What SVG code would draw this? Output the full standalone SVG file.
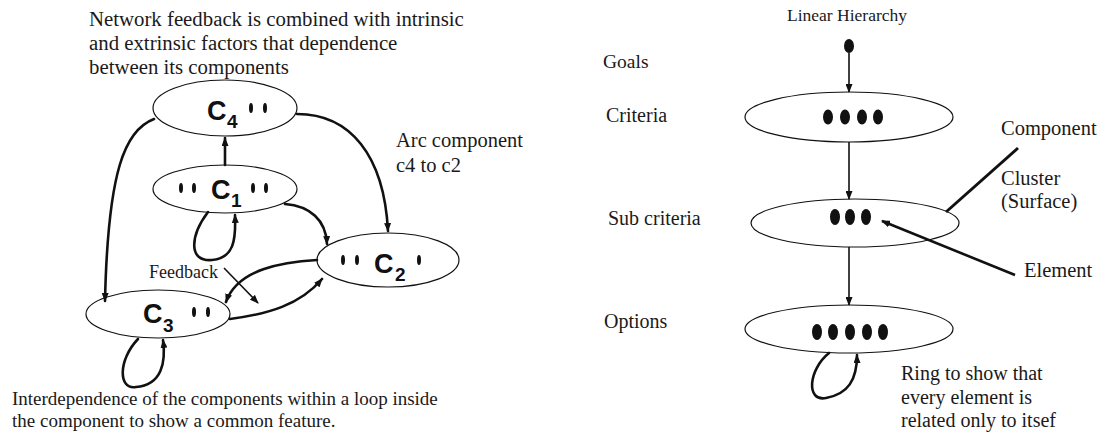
<svg xmlns="http://www.w3.org/2000/svg" width="1102" height="433" viewBox="0 0 1102 433">
<style>
.t{font-family:"Liberation Serif","Times New Roman",serif;fill:#1a1a1a}
.c{font-family:"Liberation Sans",Arial,sans-serif;font-weight:bold;fill:#111}
.ell{fill:none;stroke:#111;stroke-width:1.2}
.thick{fill:none;stroke:#111;stroke-width:2.6;stroke-linecap:round}
.thin{fill:none;stroke:#111;stroke-width:1.6}
.dot{fill:#111}
</style>
<defs>
<marker id="ah" markerUnits="userSpaceOnUse" markerWidth="9" markerHeight="7" refX="8" refY="3.5" orient="auto">
<path d="M0,0 L9,3.5 L0,7 z" fill="#111"/>
</marker>
</defs>
<rect width="1102" height="433" fill="#fff"/>

<!-- left texts -->
<g id="title-left">
<text class="t" x="89" y="26" font-size="20.8">Network feedback is combined with intrinsic</text>
<text class="t" x="89" y="50" font-size="20.8">and extrinsic factors that dependence</text>
<text class="t" x="89" y="74" font-size="20.8">between its components</text>
</g>
<g id="arc-label">
<text class="t" x="396" y="147" font-size="20.5">Arc component</text>
<text class="t" x="396" y="172" font-size="20.5">c4 to c2</text>
</g>
<g id="feedback-label"><text class="t" x="149" y="278" font-size="18">Feedback</text></g>
<g id="bottom-left-text">
<text class="t" x="12" y="405" font-size="19">Interdependence of the components within a loop inside</text>
<text class="t" x="12" y="427" font-size="19">the component to show a common feature.</text>
</g>

<!-- left nodes -->
<g id="C4">
<ellipse class="ell" cx="225" cy="108" rx="72" ry="28"/>
<text class="c" x="207" y="120" font-size="27">C</text>
<text class="c" x="227" y="128" font-size="19">4</text>
<ellipse class="dot" cx="251" cy="108" rx="2" ry="5"/>
<ellipse class="dot" cx="265" cy="108" rx="2" ry="5"/>
</g>
<g id="C1">
<ellipse class="ell" cx="225" cy="189" rx="72" ry="24"/>
<ellipse class="dot" cx="181" cy="188" rx="2" ry="5"/>
<ellipse class="dot" cx="194" cy="188" rx="2" ry="5"/>
<text class="c" x="211" y="199" font-size="27">C</text>
<text class="c" x="231" y="207" font-size="19">1</text>
<ellipse class="dot" cx="253" cy="188" rx="2" ry="5"/>
<ellipse class="dot" cx="266" cy="188" rx="2" ry="5"/>
</g>
<g id="C2">
<ellipse class="ell" cx="388" cy="260" rx="71" ry="27"/>
<ellipse class="dot" cx="343" cy="260" rx="2" ry="5"/>
<ellipse class="dot" cx="357" cy="260" rx="2" ry="5"/>
<text class="c" x="374" y="273" font-size="27">C</text>
<text class="c" x="395" y="281" font-size="19">2</text>
<ellipse class="dot" cx="419" cy="260" rx="2" ry="5"/>
</g>
<g id="C3">
<ellipse class="ell" cx="158" cy="314" rx="72" ry="24"/>
<text class="c" x="143" y="323" font-size="27">C</text>
<text class="c" x="163" y="332" font-size="19">3</text>
<ellipse class="dot" cx="194" cy="312" rx="2" ry="5"/>
<ellipse class="dot" cx="208" cy="312" rx="2" ry="5"/>
</g>

<!-- right texts -->
<g id="labels-right">
<text class="t" x="787" y="21" font-size="17.5">Linear Hierarchy</text>
<text class="t" x="603" y="68" font-size="19.5">Goals</text>
<text class="t" x="606" y="122" font-size="20">Criteria</text>
<text class="t" x="608" y="225" font-size="20">Sub criteria</text>
<text class="t" x="604" y="328" font-size="20">Options</text>
<text class="t" x="1001" y="135" font-size="20.5">Component</text>
<text class="t" x="1001" y="185" font-size="20.5">Cluster</text>
<text class="t" x="1001" y="208" font-size="20.5">(Surface)</text>
<text class="t" x="1024" y="277" font-size="20.5">Element</text>
<text class="t" x="901" y="380" font-size="20">Ring to show that</text>
<text class="t" x="901" y="404" font-size="20">every element is</text>
<text class="t" x="901" y="427" font-size="20">related only to itsef</text>
</g>

<!-- right nodes -->
<g id="goal"><ellipse class="dot" cx="849" cy="46" rx="5" ry="7"/></g>
<g id="criteria">
<ellipse class="ell" cx="849" cy="117" rx="104" ry="25"/>
<ellipse class="dot" cx="828" cy="117" rx="5" ry="7.5"/>
<ellipse class="dot" cx="845" cy="117" rx="5" ry="7.5"/>
<ellipse class="dot" cx="862" cy="117" rx="5" ry="7.5"/>
<ellipse class="dot" cx="878" cy="117" rx="5" ry="7.5"/>
</g>
<g id="subcriteria">
<ellipse class="ell" cx="855" cy="223" rx="104" ry="24"/>
<ellipse class="dot" cx="835" cy="217" rx="5" ry="8"/>
<ellipse class="dot" cx="850" cy="217" rx="5" ry="8"/>
<ellipse class="dot" cx="866" cy="217" rx="5" ry="8"/>
</g>
<g id="options">
<ellipse class="ell" cx="849" cy="329" rx="104" ry="24"/>
<ellipse class="dot" cx="817" cy="332" rx="5" ry="8"/>
<ellipse class="dot" cx="833" cy="332" rx="5" ry="8"/>
<ellipse class="dot" cx="850" cy="332" rx="5" ry="8"/>
<ellipse class="dot" cx="867" cy="332" rx="5" ry="8"/>
<ellipse class="dot" cx="883" cy="332" rx="5" ry="8"/>
</g>

<!-- connectors -->
<g id="connectors">
<path class="thick" d="M225 165 L225 138" marker-end="url(#ah)"/>
<path class="thick" d="M154 119 C125 130 108 170 105 301" marker-end="url(#ah)"/>
<path class="thick" d="M297 114 C350 114 384 155 388 231" marker-end="url(#ah)"/>
<path class="thick" d="M285 204 C310 206 326 220 327 244" marker-end="url(#ah)"/>
<path class="thick" d="M317 260 C285 262 238 268 226 302" marker-end="url(#ah)"/>
<path class="thick" d="M230 319 C268 314 300 305 322 279" marker-end="url(#ah)"/>
<path class="thick" d="M208 212 C190 236 188 262 212 260 C234 258 236 240 235 215" marker-end="url(#ah)"/>
<path class="thick" d="M138 339 C118 360 118 390 136 387 C162 385 166 362 163 340" marker-end="url(#ah)"/>
<path class="thin" d="M224 268 L258 303" marker-end="url(#ah)"/>
<path class="thin" d="M849 53 L849 92" marker-end="url(#ah)"/>
<path class="thin" d="M849 142 L849 199" marker-end="url(#ah)"/>
<path class="thin" d="M849 247 L849 305" marker-end="url(#ah)"/>
<path class="thick" d="M829 353 C808 370 806 402 826 398 C848 394 857 380 857 355" marker-end="url(#ah)"/>
<path fill="none" stroke="#111" stroke-width="3" d="M1018 148 L946 212"/>
<path fill="none" stroke="#111" stroke-width="2.6" d="M1015 275 L882 221" marker-end="url(#ah)"/>
</g>
</svg>
